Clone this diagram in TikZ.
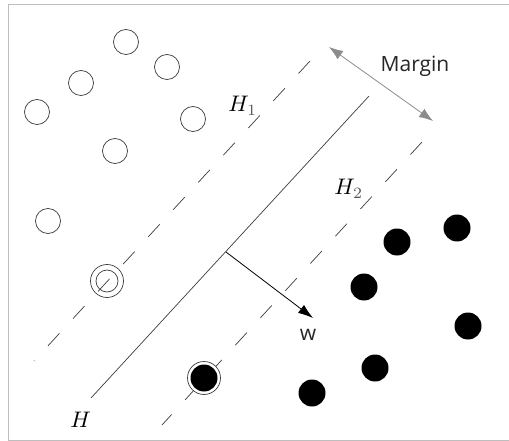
\documentclass[tikz,border=0pt]{standalone}
\usepackage{graphicx}
\usepackage{fontspec}
\usepackage{tikz}
\usetikzlibrary{arrows.meta}
\newfontfamily\labelfont{Open Sans}
\definecolor{svline}{RGB}{60,60,60}
\definecolor{svframe}{RGB}{190,190,190}
\definecolor{svmargin}{RGB}{140,140,140}
\newcommand{\bigmath}[1]{\scalebox{2.25}{$#1$}}

\begin{document}
\begin{tikzpicture}[x=1pt,y=-1pt,line width=0.8pt,
    opendot/.style={circle,draw=svline,line width=0.7pt,minimum size=25pt,inner sep=0pt},
    fulldot/.style={circle,fill=black,minimum size=27pt,inner sep=0pt},
    ring/.style={circle,draw=svline,line width=0.7pt,minimum size=33pt,inner sep=0pt},
    hyper/.style={draw=svline,line width=0.7pt},
    margin/.style={dash pattern=on 17pt off 20pt},
    hname/.style={anchor=base west,inner sep=0pt}]
        \useasboundingbox (0,0) rectangle (509,441);
        % frame
        \draw[svframe,line width=1pt] (509,4.5) -- (8.5,4.5) -- (8.5,440) -- (509,440);
        % hyperplanes
        \coordinate (hs) at (91,398);  \coordinate (he) at (369,96);
        \coordinate (h1s) at (310,61); \coordinate (h1e) at (34,361);
        \coordinate (h2s) at (422,142); \coordinate (h2e) at (162,425);
        \draw[hyper] (hs) -- (he);
        \draw[hyper,margin] (h1s) -- (h1e);
        \draw[hyper,margin] (h2s) -- (h2e);
        % class one
        \node[opendot] (o1) at (126,42) {};
        \node[opendot] (o2) at (167,67) {};
        \node[opendot] (o3) at (81,83) {};
        \node[opendot] (o4) at (37,112) {};
        \node[opendot] (o5) at (193,119) {};
        \node[opendot] (o6) at (115,151) {};
        \node[opendot] (o7) at (48,221) {};
        \node[ring] (sv1) at (107,281) {};
        \node[opendot,minimum size=22pt] at (sv1) {};
        % class two
        \node[fulldot] (f1) at (457,228) {};
        \node[fulldot] (f2) at (397,242) {};
        \node[fulldot] (f3) at (364,287) {};
        \node[fulldot] (f4) at (468,326) {};
        \node[fulldot] (f5) at (375,368) {};
        \node[fulldot] (f6) at (312,393) {};
        \node[ring,fill=white] (sv2) at (204,378) {};
        \node[fulldot] at (sv2) {};
        % normal vector
        \coordinate (foot) at (226,252);
        \coordinate (wtip) at (313,318);
        \draw[black,line width=0.8pt,-{Latex[length=15pt,width=10pt]}] (foot) -- (wtip);
        \node[anchor=base,font=\labelfont\fontsize{21}{25}\selectfont,text=black!85] (wlabel) at (308,340) {w};
        % margin
        \coordinate (ma) at (329,47);
        \coordinate (mb) at (433,121);
        \draw[svmargin,line width=0.8pt,{Latex[length=14pt,width=10pt]}-{Latex[length=14pt,width=10pt]}] (ma) -- (mb);
        \node[anchor=base,font=\labelfont\fontsize{21}{25}\selectfont,text=black!85] (mlabel) at (415,72) {Margin};
        % labels
        \node[hname] (hlabel) at (70,427) {\bigmath{H}};
        \node[hname] (h1label) at (228,112) {\bigmath{H_{\textcolor{black!65}{1}}}};
        \node[hname] (h2label) at (334,195) {\bigmath{H_{\textcolor{black!65}{2}}}};
      \end{tikzpicture}
\end{document}
